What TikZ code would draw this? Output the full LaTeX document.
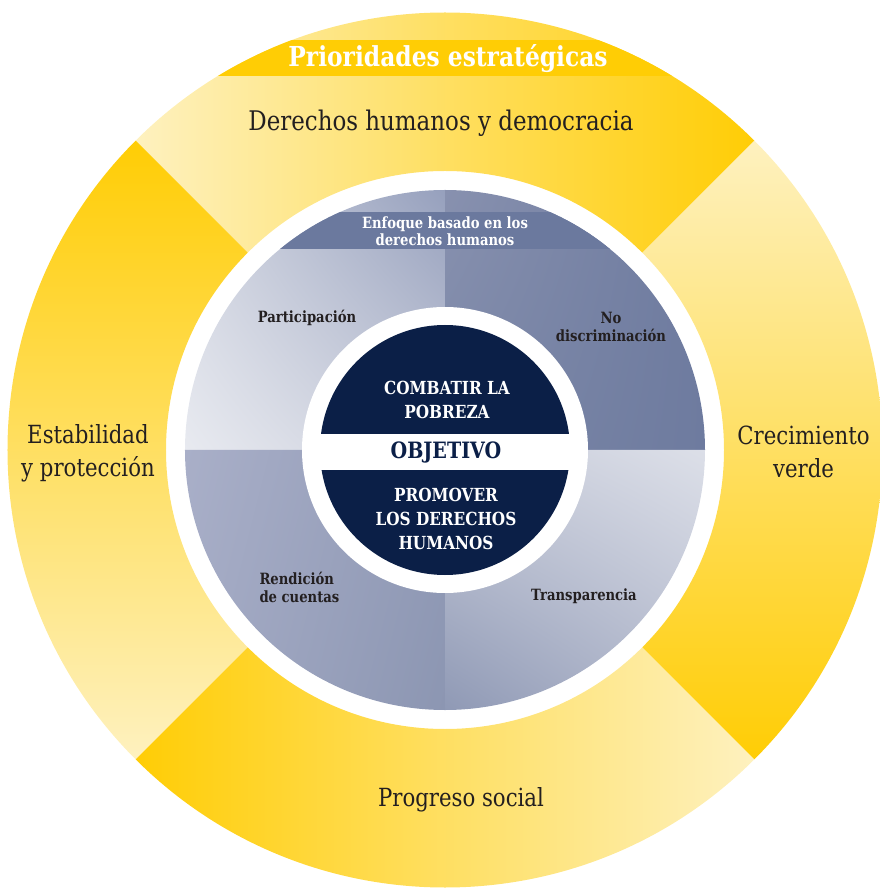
\documentclass[tikz,border=0pt]{standalone}
\usepackage{fontspec}
\setmainfont[FakeStretch=0.85]{DejaVu Serif}
\usetikzlibrary{shadings}

\definecolor{ysat}{HTML}{FFCD05}
\definecolor{ylight}{HTML}{FEF1BF}
\definecolor{navy}{HTML}{0B1F47}
\definecolor{bandblue}{HTML}{6B799E}
\definecolor{inktext}{HTML}{231F20}

\begin{document}
\begin{tikzpicture}[x=1pt,y=1pt]
		\tikzset{ringlabel/.style = {font=\fontsize{25}{33}\selectfont, text=inktext, align=center},
			disclabel/.style = {font=\fontsize{15.5}{18}\selectfont\bfseries, text=inktext, align=center},
			goallabel/.style = {font=\fontsize{18}{24}\selectfont\bfseries, text=white, align=center}}

		\useasboundingbox (-445,-438) rectangle (434,450);

		\shade[left color=ylight, right color=ysat] (45:437.5) arc[start angle=45, end angle=135, radius=437.5] -- (135:279) arc[start angle=135, end angle=45, radius=279] -- cycle;
		\shade[top color=ysat, bottom color=ylight] (135:437.5) arc[start angle=135, end angle=225, radius=437.5] -- (225:279) arc[start angle=225, end angle=135, radius=279] -- cycle;
		\shade[left color=ysat, right color=ylight] (225:437.5) arc[start angle=225, end angle=315, radius=437.5] -- (315:279) arc[start angle=315, end angle=225, radius=279] -- cycle;
		\shade[top color=ylight, bottom color=ysat] (315:437.5) arc[start angle=315, end angle=405, radius=437.5] -- (405:279) arc[start angle=405, end angle=315, radius=279] -- cycle;

		\begin{scope}
			\clip (0,0) circle (437.5);
			\fill[ysat] (-440,374) rectangle (440,410);
		\end{scope}

		\shade[lower left={rgb,255:red,232;green,234;blue,240}, upper left={rgb,255:red,208;green,212;blue,224}, lower right={rgb,255:red,200;green,204;blue,218}, upper right={rgb,255:red,150;green,160;blue,189}] (0,0) -- (180:260) arc[start angle=180, end angle=90, radius=260] -- cycle;
		\shade[upper left={rgb,255:red,136;green,145;blue,175}, upper right={rgb,255:red,110;green,123;blue,159}, lower left={rgb,255:red,123;green,135;blue,167}, lower right={rgb,255:red,110;green,123;blue,159}] (0,0) -- (90:260) arc[start angle=90, end angle=0, radius=260] -- cycle;
		\shade[upper left={rgb,255:red,169;green,175;blue,200}, lower left={rgb,255:red,163;green,170;blue,196}, upper right={rgb,255:red,146;green,155;blue,183}, lower right={rgb,255:red,140;green,150;blue,178}] (0,0) -- (180:260) arc[start angle=180, end angle=270, radius=260] -- cycle;
		\shade[upper right={rgb,255:red,220;green,223;blue,232}, upper left={rgb,255:red,200;green,204;blue,218}, lower left={rgb,255:red,143;green,153;blue,181}, lower right={rgb,255:red,180;green,186;blue,205}] (0,0) -- (0:260) arc[start angle=0, end angle=-90, radius=260] -- cycle;

		\begin{scope}
			\clip (0,0) circle (260);
			\fill[bandblue] (-262,201) rectangle (262,238);
		\end{scope}

		\fill[white] (0,0) circle (143);
		\fill[navy] (0,0) circle (125);
		\fill[white] (-130,-20) rectangle (130,16);


		\node[font=\fontsize{27.5}{32}\selectfont\bfseries, text=white] (prio) at (3,391) {Prioridades estratégicas};

		\node[ringlabel, font=\fontsize{27}{33}\selectfont] (R_1) at (-4,327) {Derechos humanos y democracia};
		\node[ringlabel] (R_2) at (-357,-3.5) {Estabilidad\\y protección};
		\node[ringlabel] (R_3) at (358.5,-2) {Crecimiento\\verde};
		\node[ringlabel] (R_4) at (16,-350) {Progreso social};

		\node[disclabel, font=\fontsize{15.5}{17}\selectfont\bfseries, text=white] (band) at (0,219) {Enfoque basado en los\\derechos humanos};
		\node[disclabel] (Q_1) at (-138,132) {Participación};
		\node[disclabel] (Q_2) at (166,123) {No\\discriminación};
		\node[disclabel, align=left, anchor=west] (Q_3) at (-189,-137) {Rendición\\de cuentas};
		\node[disclabel] (Q_4) at (139,-146) {Transparencia};

		\node[goallabel] (G_1) at (2,50.5) {COMBATIR LA\\POBREZA};
		\node[font=\fontsize{22.5}{26}\selectfont\bfseries, text=navy] (goal) at (1,-2) {OBJETIVO};
		\node[goallabel] (G_2) at (1,-69) {PROMOVER\\LOS DERECHOS\\HUMANOS};

	\end{tikzpicture}
\end{document}
